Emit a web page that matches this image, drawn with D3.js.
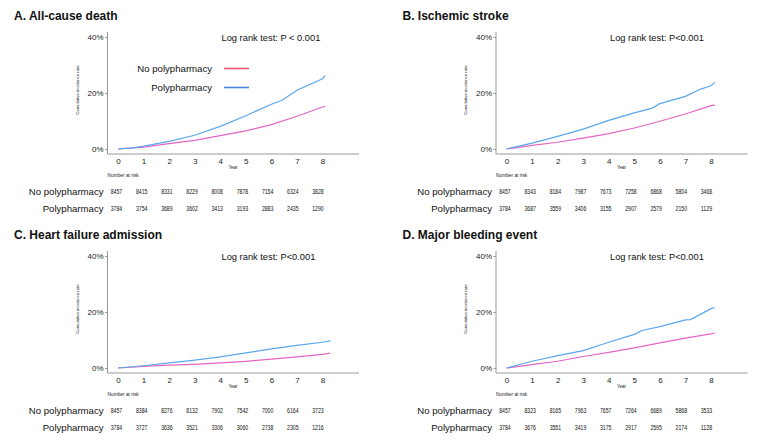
<!DOCTYPE html>
<html><head><meta charset="utf-8">
<script src="https://cdn.jsdelivr.net/npm/d3@7/dist/d3.min.js"></script>
<style>body{margin:0;background:#fff}svg{display:block;font-family:"Liberation Sans",Arial,sans-serif}</style>
</head><body><svg id="c" width="774" height="444"></svg>
<script>
// ---- data ----
const panelTitles = ["A. All-cause death","B. Ischemic stroke","C. Heart failure admission","D. Major bleeding event"];
const logRankTexts = ["Log rank test: P < 0.001","Log rank test: P<0.001","Log rank test: P<0.001","Log rank test: P<0.001"];
const seriesNames = ["No polypharmacy","Polypharmacy"];
const yearTicks = [0,1,2,3,4,5,6,7,8];
const yTicks = [0,20,40];

const riskA_no   = [8457,8415,8331,8229,8008,7878,7154,6324,3828];
const riskA_poly = [3784,3754,3689,3602,3413,3193,2883,2435,1290];
const riskB_no   = [8457,8343,8184,7987,7673,7258,6868,5804,3468];
const riskB_poly = [3784,3687,3559,3406,3155,2907,2579,2150,1129];
const riskC_no   = [8457,8384,8276,8132,7902,7542,7000,6164,3723];
const riskC_poly = [3784,3727,3636,3521,3306,3060,2738,2305,1216];
const riskD_no   = [8457,8323,8165,7963,7657,7264,6689,5868,3533];
const riskD_poly = [3784,3676,3551,3419,3175,2917,2595,2174,1128];

const tA_poly = [0,0.5,1,2,3,4,5,6,6.4,7,8,8.1];
const vA_poly = [0,0.3,1.0,2.7,4.9,8.1,11.9,16,17.3,21,25.1,26.2];
const tA_no   = [0,1,2,3,4,5,6,7,8,8.1];
const vA_no   = [0,0.7,1.9,3.1,4.8,6.5,8.7,11.7,15,15.2];
const tB_poly = [0,1,2,3,4,5,5.7,6,7,7.6,8,8.15];
const vB_poly = [0,2.1,4.5,7.1,10.2,12.9,14.6,16.2,18.8,21.4,22.6,23.8];
const tB_no   = [0,1,2,3,4,5,6,7,8,8.15];
const vB_no   = [0,1.3,2.4,3.9,5.5,7.5,9.9,12.5,15.5,15.7];
const tC_poly = [0,1,2,3,4,5,6,7,8,8.3];
const vC_poly = [0,0.8,1.8,2.8,4.0,5.4,6.8,8.1,9.2,9.7];
const tC_no   = [0,1,2,3,4,5,6,7,8,8.3];
const vC_no   = [0,0.6,1.0,1.3,1.8,2.4,3.2,4.0,4.9,5.3];
const tD_poly = [0,1,2,3,4,5,5.3,6,7,7.2,8,8.15];
const vD_poly = [0,2.4,4.4,6.2,9.2,12.0,13.4,14.8,17.2,17.3,21.2,21.6];
const tD_no   = [0,1,2,3,4,5,6,7,8,8.15];
const vD_no   = [0,1.2,2.4,4.1,5.6,7.2,9.0,10.7,12.2,12.5];

const panels = [
  {title:panelTitles[0], lr:logRankTexts[0], no:[tA_no,vA_no], poly:[tA_poly,vA_poly], rNo:riskA_no, rPoly:riskA_poly, legend:true},
  {title:panelTitles[1], lr:logRankTexts[1], no:[tB_no,vB_no], poly:[tB_poly,vB_poly], rNo:riskB_no, rPoly:riskB_poly},
  {title:panelTitles[2], lr:logRankTexts[2], no:[tC_no,vC_no], poly:[tC_poly,vC_poly], rNo:riskC_no, rPoly:riskC_poly},
  {title:panelTitles[3], lr:logRankTexts[3], no:[tD_no,vD_no], poly:[tD_poly,vD_poly], rNo:riskD_no, rPoly:riskD_poly}
];

// ---- layout / style ----
const colNo = "#e466c4", colPoly = "#5aa7ec";
const legNo = "#ef5470", legPoly = "#4a82e4";
const axisCol = "#999";
const offsets = [[0,0],[388.5,0],[0,219],[388.5,219]];

const svg = d3.select("#c");

panels.forEach((p,i)=>{
  const [ox,oy] = offsets[i];
  const g = svg.append("g").attr("transform",`translate(${ox},${oy})`);
  const axL = 107.5, top = 37, bot = 149;
  const x = d3.scaleLinear().domain([0,8]).range([118,322.5]);
  const xr = d3.scaleLinear().domain([0,8]).range([116.5,318]);
  const y = d3.scaleLinear().domain([0,40]).range([bot,top]);

  g.append("text").attr("x",14).attr("y",19.5).attr("font-size",12).attr("font-weight","bold").attr("fill","#111").text(p.title);

  // y axis
  const ya = g.append("g").attr("transform",`translate(${axL},0)`)
    .call(d3.axisLeft(y).tickValues(yTicks).tickFormat(d=>d+"%").tickSize(2.5).tickPadding(1.5));
  ya.select(".domain").attr("stroke",axisCol).attr("d",`M0,${top-5}V${bot+5}`);
  ya.selectAll(".tick line").attr("stroke",axisCol);
  ya.selectAll(".tick text").attr("font-size",8).attr("fill","#222").attr("font-family","Liberation Sans, Arial, sans-serif");

  // x axis
  const xa = g.append("g").attr("transform",`translate(0,${bot+5})`)
    .call(d3.axisBottom(x).tickValues(yearTicks).tickFormat(d3.format("d")).tickSize(0).tickPadding(4));
  xa.select(".domain").attr("stroke",axisCol).attr("d",`M${axL},0H${axL+251.5}`);
  xa.selectAll(".tick text").attr("font-size",8).attr("fill","#222").attr("font-family","Liberation Sans, Arial, sans-serif");

  g.append("text").attr("x",x(4.5)).attr("y",bot+20).attr("font-size",4.5).attr("text-anchor","middle").attr("fill","#222").text("Year");
  g.append("text").attr("transform",`translate(${axL-29},${(top+bot)/2-3}) rotate(-90)`).attr("font-size",4.3).attr("text-anchor","middle").attr("fill","#222").text("Cumulative incidence rate");

  g.append("text").attr("x",x(4.05)).attr("y",top+3.5).attr("font-size",9.3).attr("fill","#111").text(p.lr);

  const line = d3.line().x(d=>x(d[0])).y(d=>y(d[1]));
  const toPts = s => s[0].map((t,k)=>[t,s[1][k]]);
  g.append("path").attr("d",line(toPts(p.no))).attr("fill","none").attr("stroke",colNo).attr("stroke-width",1.2);
  g.append("path").attr("d",line(toPts(p.poly))).attr("fill","none").attr("stroke",colPoly).attr("stroke-width",1.2);

  if(p.legend){
    const ly = [68.5,87.5];
    const lc = [legNo,legPoly];
    seriesNames.forEach((n,k)=>{
      g.append("text").attr("x",212).attr("y",ly[k]+3.3).attr("text-anchor","end").attr("font-size",9.6).attr("fill","#111").text(n);
      g.append("line").attr("x1",224).attr("x2",249).attr("y1",ly[k]).attr("y2",ly[k]).attr("stroke",lc[k]).attr("stroke-width",1.6);
    });
  }

  // risk table
  g.append("text").attr("x",axL).attr("y",bot+27.5).attr("font-size",4.8).attr("fill","#222").text("Number at risk");
  const rows = [[seriesNames[0],p.rNo,bot+45.5],[seriesNames[1],p.rPoly,bot+62.5]];
  rows.forEach(([n,vals,ry])=>{
    g.append("text").attr("x",axL-4).attr("y",ry).attr("text-anchor","end").attr("font-size",9.6).attr("fill","#111").text(n);
    g.selectAll(null).data(vals).enter().append("text")
      .attr("x",(d,k)=>xr(yearTicks[k])).attr("y",ry-0.5).attr("text-anchor","middle")
      .attr("font-size",6.5).attr("textLength",11.5).attr("lengthAdjust","spacingAndGlyphs")
      .attr("fill","#111").text(d=>d);
  });
});
</script></body></html>
